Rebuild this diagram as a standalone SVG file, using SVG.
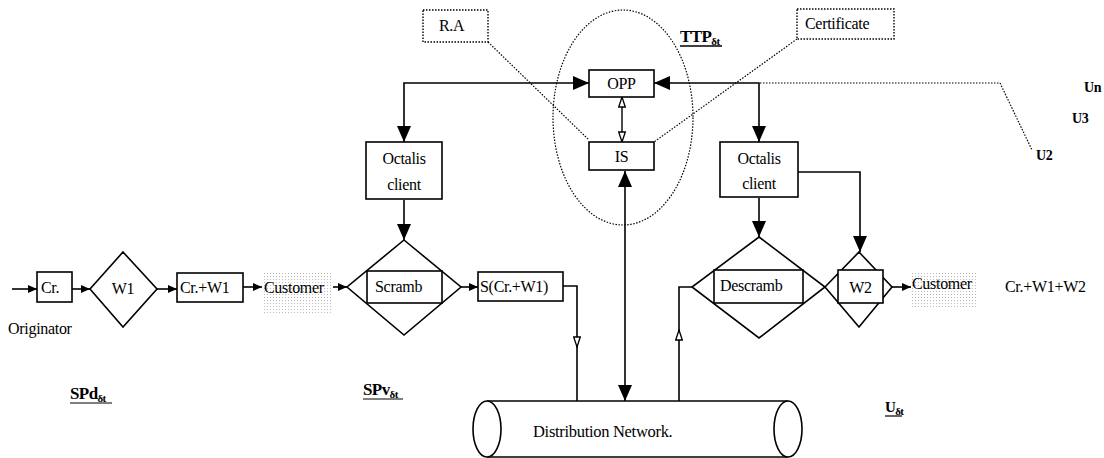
<svg xmlns="http://www.w3.org/2000/svg" width="1104" height="458" viewBox="0 0 1104 458">
<style>
  .box{fill:#fff;stroke:#000;stroke-width:1.6}
  .dbox{fill:#fff;stroke:#000;stroke-width:1.4;stroke-dasharray:1.5 1.5}
  .dot{fill:none;stroke:#000;stroke-width:1.2;stroke-dasharray:1.5 1.5}
  .ln{fill:none;stroke:#000;stroke-width:1.6}
  .t{font-family:"Liberation Serif","Times New Roman",serif;font-size:16px;fill:#000;letter-spacing:-0.3px}
  .b{font-family:"Liberation Serif","Times New Roman",serif;font-weight:bold;font-size:17px;fill:#000;letter-spacing:-0.6px}
  .sub{font-size:11px}
</style>
<defs>
  <marker id="big" viewBox="0 0 16 14" refX="16" refY="7" markerWidth="16" markerHeight="14" markerUnits="userSpaceOnUse" orient="auto-start-reverse">
    <path d="M0,0 L16,7 L0,14 Z" fill="#000"/>
  </marker>
  <marker id="sm" viewBox="0 0 9 8" refX="9" refY="4" markerWidth="9" markerHeight="8" markerUnits="userSpaceOnUse" orient="auto-start-reverse">
    <path d="M0,0 L9,4 L0,8 Z" fill="#000"/>
  </marker>
  <marker id="hol" viewBox="0 0 12 8" refX="11" refY="4" markerWidth="12" markerHeight="8" markerUnits="userSpaceOnUse" orient="auto-start-reverse">
    <path d="M1,0.7 L11,4 L1,7.3 Z" fill="#fff" stroke="#000" stroke-width="1.3"/>
  </marker>
  <pattern id="dots" width="3" height="3" patternUnits="userSpaceOnUse">
    <rect width="3" height="3" fill="#fff"/>
    <rect width="1" height="1" fill="#bbb"/>
  </pattern>
</defs>

<!-- TTP ellipse -->
<g id="ttp">
  <ellipse cx="623" cy="117.5" rx="70" ry="107.5" class="dot"/>
  <text x="680" y="42" class="b">TTP<tspan class="sub" dy="3">δt</tspan></text>
  <line x1="680" y1="46" x2="722" y2="46" stroke="#000" stroke-width="1.3"/>
</g>

<g id="connectors">
  <!-- dotted -->
  <path class="dot" d="M488,42 L589,140"/>
  <path class="dot" d="M797,39 L654,142"/>
  <path class="dot" d="M760,83 H1000 L1032,150"/>
  <!-- main flow -->
  <path class="ln" d="M12,289 H37" marker-end="url(#sm)"/>
  <path class="ln" d="M72,289 H90" marker-end="url(#sm)"/>
  <path class="ln" d="M157,289 H177" marker-end="url(#sm)"/>
  <path class="ln" d="M243,287 H262" marker-end="url(#sm)"/>
  <path class="ln" d="M333,287 H347" marker-end="url(#sm)"/>
  <path class="ln" d="M461,287 H478" marker-end="url(#sm)"/>
  <path class="ln" d="M563,286 H577 V347" marker-end="url(#hol)"/>
  <path class="ln" d="M577,345 V401"/>
  <!-- TTP links -->
  <path class="ln" d="M404,142 V83 H589" marker-start="url(#big)" marker-end="url(#big)"/>
  <path class="ln" d="M759,142 V83 H654" marker-start="url(#big)" marker-end="url(#big)"/>
  <path class="ln" d="M622,97 V142" marker-start="url(#hol)" marker-end="url(#hol)" style="stroke-width:1.4"/>
  <path class="ln" d="M625,171 V401" marker-start="url(#big)" marker-end="url(#big)"/>
  <!-- Octalis to diamonds -->
  <path class="ln" d="M404,200 V240" marker-end="url(#big)"/>
  <path class="ln" d="M759,198 V237" marker-end="url(#big)"/>
  <path class="ln" d="M798,172 H860 V252" marker-end="url(#big)"/>
  <!-- return path -->
  <path class="ln" d="M679,401 V330" marker-end="url(#hol)"/>
  <path class="ln" d="M679,332 V287 H692"/>
  <path class="ln" d="M892,287 H911" marker-end="url(#sm)"/>
</g>

<g id="ra">
  <rect x="423" y="10" width="65" height="32" class="dbox"/>
  <text x="439" y="31" class="t">R.A</text>
</g>
<g id="certificate">
  <rect x="797" y="9" width="97" height="30" class="dbox"/>
  <text x="805" y="29" class="t">Certificate</text>
</g>
<g id="opp">
  <rect x="589" y="70" width="65" height="27" class="box"/>
  <text x="621.5" y="89" class="t" text-anchor="middle">OPP</text>
</g>
<g id="is">
  <rect x="589" y="142" width="65" height="28" class="box"/>
  <text x="621.5" y="162" class="t" text-anchor="middle">IS</text>
</g>
<g id="octalis-left">
  <rect x="366" y="142" width="76" height="57" class="box"/>
  <text x="404" y="164" class="t" text-anchor="middle">Octalis</text>
  <text x="404" y="190" class="t" text-anchor="middle">client</text>
</g>
<g id="octalis-right">
  <rect x="720" y="142" width="78" height="55" class="box"/>
  <text x="759" y="164" class="t" text-anchor="middle">Octalis</text>
  <text x="759" y="189" class="t" text-anchor="middle">client</text>
</g>

<g id="originator">
  <text x="8" y="334" class="t">Originator</text>
</g>
<g id="cr">
  <rect x="37" y="272" width="35" height="30" class="box"/>
  <text x="41" y="293" class="t">Cr.</text>
</g>
<g id="w1">
  <path d="M123,252 L157,289 L123,327 L90,289 Z" class="box"/>
  <text x="123" y="294" class="t" text-anchor="middle">W1</text>
</g>
<g id="cr-w1">
  <rect x="177" y="273" width="66" height="29" class="box"/>
  <text x="180" y="293" class="t">Cr.+W1</text>
</g>
<g id="customer-left">
  <rect x="262" y="273" width="70" height="40" fill="url(#dots)"/>
  <text x="264" y="293" class="t">Customer</text>
</g>
<g id="scramb">
  <path d="M404,240 L461,287 L404,335 L347,287 Z" class="box"/>
  <rect x="367" y="271" width="75" height="32" class="box"/>
  <text x="375" y="292" class="t">Scramb</text>
</g>
<g id="s-cr-w1">
  <rect x="478" y="272" width="85" height="29" class="box"/>
  <text x="480" y="292" class="t">S(Cr.+W1)</text>
</g>
<g id="descramb">
  <path d="M759,237 L825,287 L759,338 L692,287 Z" class="box"/>
  <rect x="714" y="270" width="89" height="33" class="box"/>
  <text x="720" y="291" class="t">Descramb</text>
</g>
<g id="w2">
  <path d="M859,252 L892,287 L859,327 L825,287 Z" class="box"/>
  <rect x="838" y="270" width="45" height="33" class="box"/>
  <text x="860.5" y="293" class="t" text-anchor="middle">W2</text>
</g>
<g id="customer-right">
  <rect x="912" y="273" width="65" height="35" fill="url(#dots)"/>
  <text x="912" y="289" class="t">Customer</text>
</g>
<g id="result">
  <text x="1005" y="292" class="t">Cr.+W1+W2</text>
</g>

<g id="network">
  <path d="M487,401 H788 M487,457 H788" class="ln"/>
  <ellipse cx="487" cy="429" rx="14" ry="28" class="box"/>
  <ellipse cx="788" cy="429" rx="14" ry="28" class="box"/>
  <text x="533" y="437" class="t" style="font-size:16.5px">Distribution Network.</text>
</g>

<g id="users">
  <text x="1084" y="92" class="t" style="font-weight:bold;font-size:14px">Un</text>
  <text x="1072" y="123" class="t" style="font-weight:bold;font-size:14px">U3</text>
  <text x="1036" y="160" class="t" style="font-weight:bold;font-size:14px">U2</text>
</g>

<g id="labels">
  <text x="70" y="399" class="b">SPd<tspan class="sub" dy="3">δt</tspan></text>
  <line x1="70" y1="403" x2="112" y2="403" stroke="#000" stroke-width="1.2"/>
  <text x="363" y="395" class="b">SPv<tspan class="sub" dy="3">δt</tspan></text>
  <line x1="363" y1="399" x2="403" y2="399" stroke="#000" stroke-width="1.2"/>
  <text x="885" y="412" class="b" style="font-size:15px">U<tspan class="sub" dy="3">δt</tspan></text>
  <line x1="885" y1="416" x2="902" y2="416" stroke="#000" stroke-width="1.2"/>
</g>
</svg>
